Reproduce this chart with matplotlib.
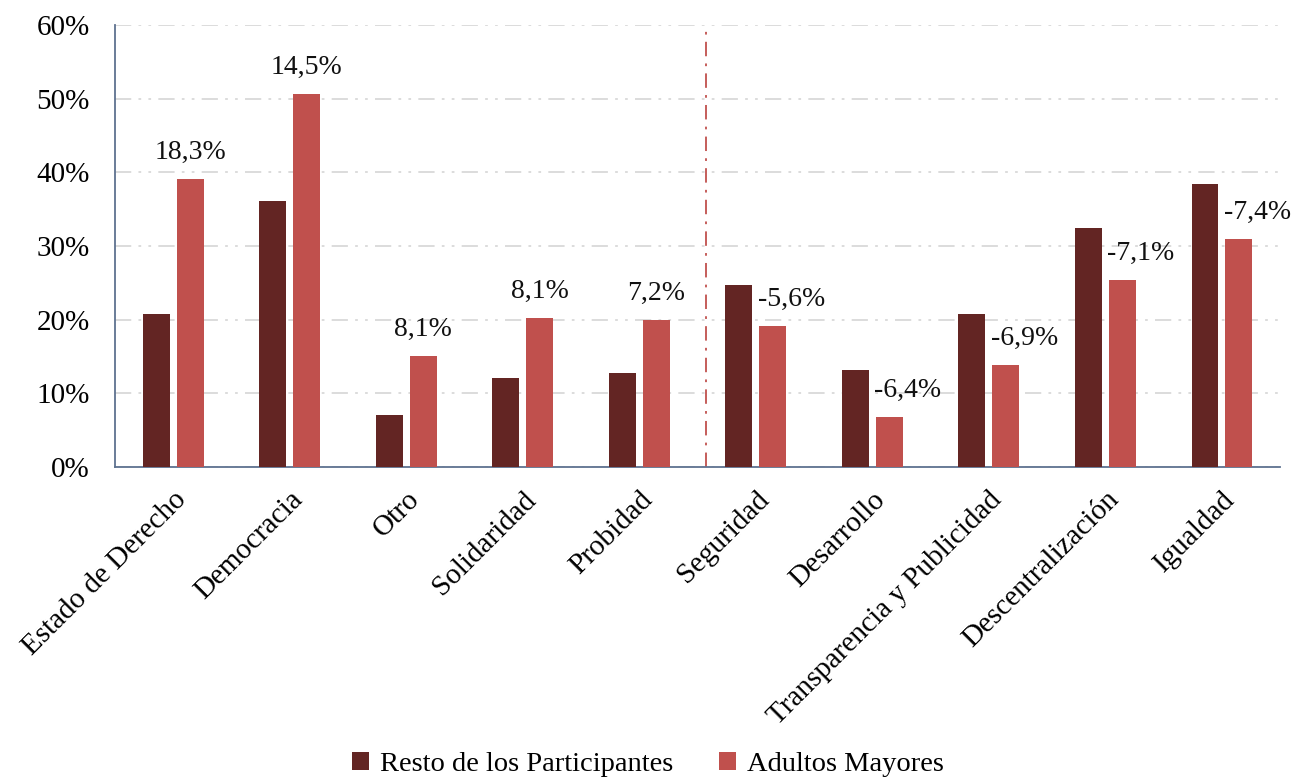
import numpy as np
import matplotlib.pyplot as plt

categories = ["Estado de Derecho", "Democracia", "Otro", "Solidaridad", "Probidad",
              "Seguridad", "Desarrollo", "Transparencia y Publicidad",
              "Descentralización", "Igualdad"]
resto = [20.8, 36.1, 7.1, 12.1, 12.8, 24.7, 13.2, 20.7, 32.5, 38.4]
adultos = [39.1, 50.6, 15.1, 20.2, 20.0, 19.1, 6.8, 13.8, 25.4, 31.0]
diff_labels = ["18,3%", "14,5%", "8,1%", "8,1%", "7,2%",
               "-5,6%", "-6,4%", "-6,9%", "-7,1%", "-7,4%"]
y_ticks = [0, 10, 20, 30, 40, 50, 60]

dark = "#632523"
light = "#C0504D"

plt.rcParams["font.family"] = ["Liberation Serif", "DejaVu Serif"]
fs = 21

fig = plt.figure(figsize=(12.96, 7.79), dpi=100)
ax = fig.add_axes([0.0887, 0.4005, 0.899, 0.5675])

x = np.arange(len(categories))
w = 0.23
off = 0.145
ax.bar(x - off, resto, w, color=dark, label="Resto de los Participantes", zorder=3)
ax.bar(x + off, adultos, w, color=light, label="Adultos Mayores", zorder=3)

# negative labels sit a little to the right in the original
for xi, v, lab in zip(x, adultos, diff_labels):
    shift = 0.16 if lab.startswith("-") else 0.0
    ax.text(xi + off + shift, v + 1.9, lab, ha="center", va="bottom", fontsize=fs - 1,
            color="#111111")

ax.axvline(4.57, ymax=0.99, color=light, lw=1.3, dashes=(8, 4, 1.5, 4), zorder=2)

ax.set_xlim(-0.5, len(categories) - 0.5)
ax.set_ylim(0, 60)
ax.set_yticks(y_ticks)
ax.set_yticklabels([f"{t}%" for t in y_ticks], fontsize=fs)
ax.set_xticks(x)
ax.set_xticklabels(categories, rotation=45, ha="right", rotation_mode="anchor", fontsize=fs)
ax.tick_params(length=0)
ax.tick_params(axis="y", pad=18)
ax.tick_params(axis="x", pad=14)

ax.yaxis.grid(True, color="#D9D9D9", lw=1.3, dashes=(9, 4, 1.5, 4, 1.5, 4), zorder=0)
for s in ["top", "right"]:
    ax.spines[s].set_visible(False)
ax.spines["left"].set_color("#5E7290")
ax.spines["bottom"].set_color("#5E7290")
ax.spines["left"].set_linewidth(1.3)
ax.spines["bottom"].set_linewidth(1.3)

fig.legend(loc="lower center", ncol=2, frameon=False, fontsize=fs - 0.5,
           bbox_to_anchor=(0.5, -0.03), handlelength=0.6, handleheight=0.6,
           handletextpad=0.4, columnspacing=1.6)

fig.savefig("out.png", dpi=100)
